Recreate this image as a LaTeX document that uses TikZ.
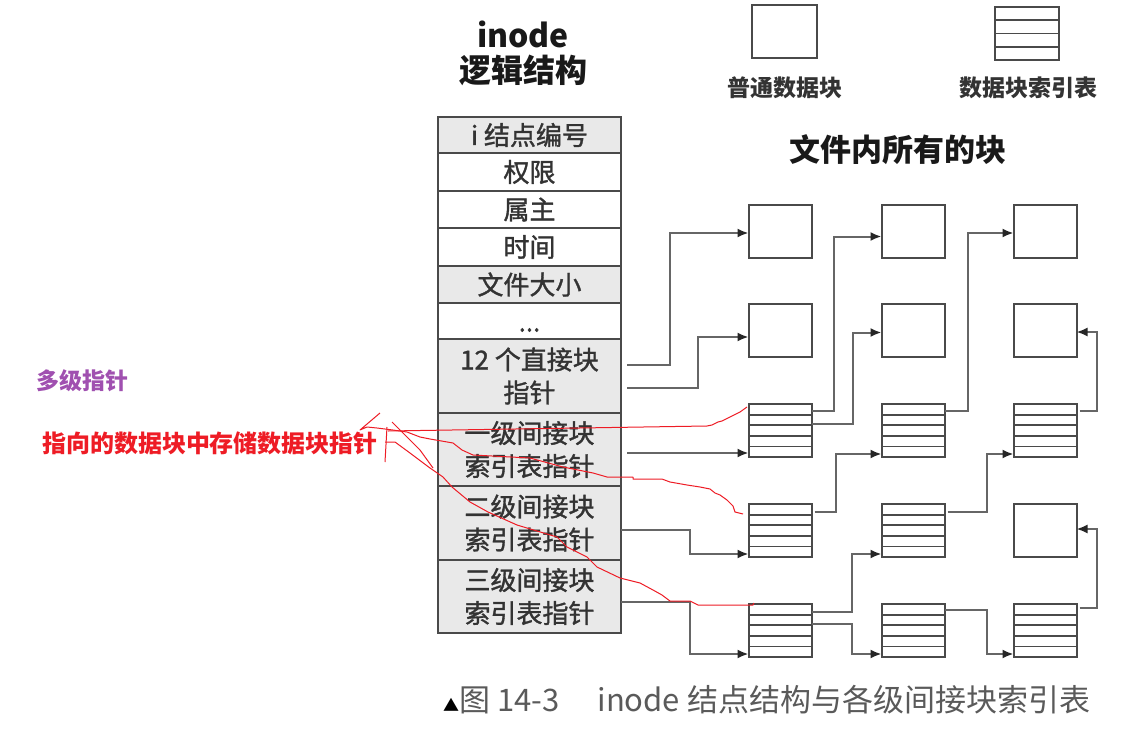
\documentclass[tikz,border=0pt]{standalone}
\usepackage{fontspec}
\setmainfont{Noto Sans CJK SC}
\newfontfamily\cellfont[FakeBold=1.3]{Noto Sans CJK SC}
\usetikzlibrary{arrows.meta,calc}

\definecolor{cellgray}{HTML}{E9E9E9}
\definecolor{edgegray}{HTML}{4A4A4A}
\definecolor{wiregray}{HTML}{666666}
\definecolor{inkred}{HTML}{EE1C25}
\definecolor{inkviolet}{HTML}{A050B0}
\definecolor{capgray}{HTML}{5A5A5A}

\tikzset{
  cell/.style={draw=edgegray, line width=2pt, minimum width=183pt, inner sep=0pt, outer sep=0pt,
    anchor=north, align=center, text=black!80, font=\cellfont\fontsize{26}{33}\selectfont},
  graycell/.style={cell, fill=cellgray},
  whitecell/.style={cell, fill=white},
  blk/.style={draw=edgegray, line width=2pt, minimum width=63pt, minimum height=53pt,
    inner sep=0pt, outer sep=0pt, fill=white},
  rule/.style={draw=edgegray, line width=1.8pt},
  conn/.style={draw=wiregray, line width=2pt,
    -{Latex[length=11pt,width=9pt,color=black!85]}},
  scribble/.style={draw=inkred, line width=1pt, line join=round},
  heading/.style={font=\fontsize{32}{32}\selectfont\bfseries, text=black!90},
  legendlabel/.style={font=\fontsize{23}{23}\selectfont\bfseries, text=black!80},
}

\begin{document}
\begin{tikzpicture}[x=1pt,y=-1pt]
\path[use as bounding box, fill=white] (0,0) rectangle (1144,734);

% headings
\node[heading] (t1) at (523,34) {inode};
\node[heading] (t2) at (523,70) {逻辑结构};

% inode fields
\node[graycell,  minimum height=36pt] (r1) at (529.5,117) {i 结点编号};
\node[whitecell, minimum height=38pt] (r2) at (r1.south) {权限};
\node[whitecell, minimum height=37pt] (r3) at (r2.south) {属主};
\node[whitecell, minimum height=38pt] (r4) at (r3.south) {时间};
\node[graycell,  minimum height=37pt] (r5) at (r4.south) {文件大小};
\node[whitecell, minimum height=36pt] (r6) at (r5.south) {};
\node[inner sep=0pt, text=black!80, font=\cellfont\fontsize{26}{33}\selectfont] (dots)
  at ([shift={(0,9)}]r6.center) {...};
\node[graycell,  minimum height=74pt] (r7) at (r6.south) {12 个直接块\\指针};
\node[graycell,  minimum height=73pt] (r8) at (r7.south) {一级间接块\\索引表指针};
\node[graycell,  minimum height=74pt] (r9) at (r8.south) {二级间接块\\索引表指针};
\node[graycell,  minimum height=73pt] (r10) at (r9.south) {三级间接块\\索引表指针};

% legend
\node[blk, minimum width=65pt] (legplain) at (784.5,31.5) {};
\node[blk, minimum width=64pt] (legtable) at (1027,33.5) {};
\foreach \f in {0.25,0.5,0.75}
  \draw[rule] ($(legtable.north west)!\f!(legtable.south west)$) -- ($(legtable.north east)!\f!(legtable.south east)$);
\node[legendlabel] (lab1) at (785,88) {普通数据块};
\node[legendlabel] (lab2) at (1028,88) {数据块索引表};
\node[font=\fontsize{31}{31}\selectfont\bfseries, text=black!90] (t3) at (898,150) {文件内所有的块};

% all blocks of the file
\foreach \c/\x in {1/780,2/913,3/1045}
  \foreach \r/\y in {A/231.5,B/330.5,C/430.5,D/530.5,E/630.5}
    \node[blk] (\r\c) at (\x,\y) {};
\foreach \n in {C1,C2,C3,D1,D2,E1,E2,E3}
  \foreach \f in {0.2,0.4,0.6,0.8}
    \draw[rule] ($(\n.north west)!\f!(\n.south west)$) -- ($(\n.north east)!\f!(\n.south east)$);

% pointer start points
\coordinate (s1) at ([shift={(6,-11)}]r7.east);
\coordinate (s2) at ([shift={(6,12)}]r7.east);
\coordinate (s3) at ([shift={(6,3.5)}]r8.east);
\coordinate (s4) at ([shift={(0,7)}]r9.east);
\coordinate (s5) at ([shift={(0,5.5)}]r10.east);
\coordinate (s6) at ([shift={(0,-19.5)}]C1.east);
\coordinate (s7) at ([shift={(0,-6.5)}]C1.east);
\coordinate (s8) at ([shift={(3,-18.5)}]D1.east);
\coordinate (s9) at ([shift={(0,-18.5)}]E1.east);
\coordinate (s10) at ([shift={(0,-6.5)}]E1.east);
\coordinate (s11) at ([shift={(0,-19.5)}]C2.east);
\coordinate (s12) at ([shift={(3,-18.5)}]D2.east);
\coordinate (s13) at ([shift={(0,-20.5)}]E2.east);
\coordinate (s14) at ([shift={(3,-19.5)}]C3.east);
\coordinate (s15) at ([shift={(3,-22.5)}]E3.east);

% pointers
\draw[conn] (s1) -- ++(43,0) |- ([shift={(0,1.5)}]A1.west);
\draw[conn] (s2) -- ++(71,0) |- ([shift={(0,6.5)}]B1.west);
\draw[conn] (s3) -- (s3 -| C1.west);
\draw[conn] (s4) -- ++(69,0) |- ([shift={(0,23.5)}]D1.west);
\draw[conn] (s5) -- ++(69,0) |- ([shift={(0,23.5)}]E1.west);
\draw[conn] (s6) -- ++(22.5,0) |- ([shift={(0,5)}]A2.west);
\draw[conn] (s7) -- ++(41.5,0) |- ([shift={(0,2)}]B2.west);
\draw[conn] (s8) -- ++(21.5,0) |- ([shift={(0,23.5)}]C2.west);
\draw[conn] (s9) -- ++(40.5,0) |- ([shift={(0,23.5)}]D2.west);
\draw[conn] (s10) -- ++(40.5,0) |- ([shift={(0,23.5)}]E2.west);
\draw[conn] (s11) -- ++(23.5,0) |- ([shift={(0,1.5)}]A3.west);
\draw[conn] (s12) -- ++(39.5,0) |- ([shift={(0,23.5)}]C3.west);
\draw[conn] (s13) -- ++(42.5,0) |- ([shift={(0,23.5)}]E3.west);
\draw[conn] (s14) -- ++(17.5,0) |- ([shift={(0,1.5)}]B3.east);
\draw[conn] (s15) -- ++(17.5,0) |- ([shift={(0,-1.5)}]D3.east);

% hand-written notes
\node[font=\fontsize{23}{23}\selectfont\bfseries, text=inkviolet] (n1) at (82,381) {多级指针};
\node[font=\fontsize{24}{24}\selectfont\bfseries, text=inkred] (n2) at (210,443) {指向的数据块中存储数据块指针};

% hand-drawn red strokes
\draw[scribble] (380,413) -- (360,430) -- (367,427) -- (377,428) -- (393,430) -- (407,432)
  -- (420,437) -- (430,439) -- (453,443) -- (462,450) -- (473,455) -- (530,458) -- (563,467)
  -- (593,473) -- (607,477) -- (633,477) -- (633,479) -- (662,479) -- (670,482) -- (687,485)
  -- (700,487) -- (710,489) -- (715,493) -- (720,495) -- (727,500) -- (733,506) -- (735,512)
  -- (743,514);
\draw[scribble] (388,431) -- (707,426) -- (712,425) -- (718,422) -- (722,421) -- (730,417)
  -- (740,412) -- (747,407);
\draw[scribble] (387,427) -- (385,462);
\draw[scribble] (392,422) -- (400,430) -- (420,450) -- (433,468);
\draw[scribble] (385,442) -- (395,442) -- (410,453) -- (430,468) -- (443,477) -- (452,487)
  -- (470,502) -- (488,512) -- (517,525) -- (557,537) -- (567,547) -- (587,557) -- (597,567)
  -- (620,578) -- (640,583) -- (653,590) -- (662,595) -- (670,601) -- (690,601) -- (698,605)
  -- (753,605) -- (754,603);

% caption
\node[anchor=west, inner sep=0pt, text=capgray, font=\fontsize{31}{31}\selectfont] (cap) at (443,700)
  {{\color{black}\fontsize{16}{16}\selectfont ▲}图 14-3\hspace{38pt}inode 结点结构与各级间接块索引表};
\end{tikzpicture}
\end{document}
